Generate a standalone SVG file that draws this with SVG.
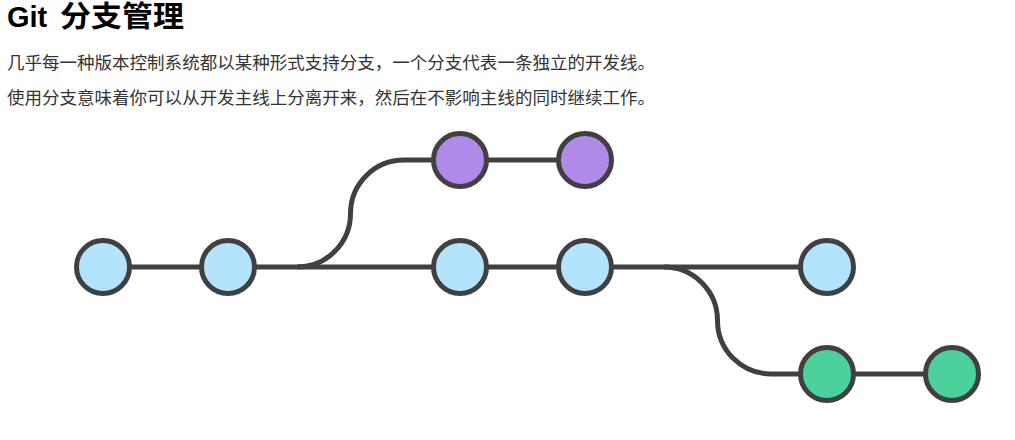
<svg xmlns="http://www.w3.org/2000/svg" width="1015" height="440" viewBox="0 0 1015 440">
  <style>
    .title { font-family: "Liberation Sans", "Noto Sans CJK SC", sans-serif; font-size: 29px; font-weight: bold; fill: #000; }
    .cjk { font-family: "Noto Sans CJK SC", sans-serif; font-size: 29px; }
    .para { font-family: "Noto Sans CJK SC", "Liberation Sans", sans-serif; font-size: 17px; fill: #333; }
    .edge { fill: none; stroke: #404040; stroke-width: 5; }
    .node { stroke: #404040; stroke-width: 5; }
    .main { fill: #b3e3fd; }
    .feat { fill: #b08ae8; }
    .fix { fill: #4cd09c; }
  </style>
  <rect width="1015" height="440" fill="#fff"/>
  <text class="title" x="7" y="27">Git <tspan class="cjk" x="60" textLength="124" lengthAdjust="spacingAndGlyphs">分支管理</tspan></text>
  <text class="para" x="7" y="69" textLength="648" lengthAdjust="spacingAndGlyphs">几乎每一种版本控制系统都以某种形式支持分支，一个分支代表一条独立的开发线。</text>
  <text class="para" x="7" y="104" textLength="648" lengthAdjust="spacingAndGlyphs">使用分支意味着你可以从开发主线上分离开来，然后在不影响主线的同时继续工作。</text>
  <g id="connectors">
    <path class="edge" d="M103,267 H827"/>
    <path class="edge" d="M297,267 A53.5,53.5 0 0 0 350.5,213.5 A53.5,53.5 0 0 1 404,160 H585"/>
    <path class="edge" d="M664,267 A53.5,53.5 0 0 1 717.5,320.5 A53.5,53.5 0 0 0 771,374 H952"/>
  </g>
  <g id="m1"><circle class="node main" cx="103" cy="267" r="26.5"/></g>
  <g id="m2"><circle class="node main" cx="228" cy="267" r="26.5"/></g>
  <g id="m3"><circle class="node main" cx="460" cy="267" r="26.5"/></g>
  <g id="m4"><circle class="node main" cx="585" cy="267" r="26.5"/></g>
  <g id="m5"><circle class="node main" cx="827" cy="267" r="26.5"/></g>
  <g id="f1"><circle class="node feat" cx="460" cy="160" r="26.5"/></g>
  <g id="f2"><circle class="node feat" cx="585" cy="160" r="26.5"/></g>
  <g id="g1"><circle class="node fix" cx="827" cy="374" r="26.5"/></g>
  <g id="g2"><circle class="node fix" cx="952" cy="374" r="26.5"/></g>
</svg>
